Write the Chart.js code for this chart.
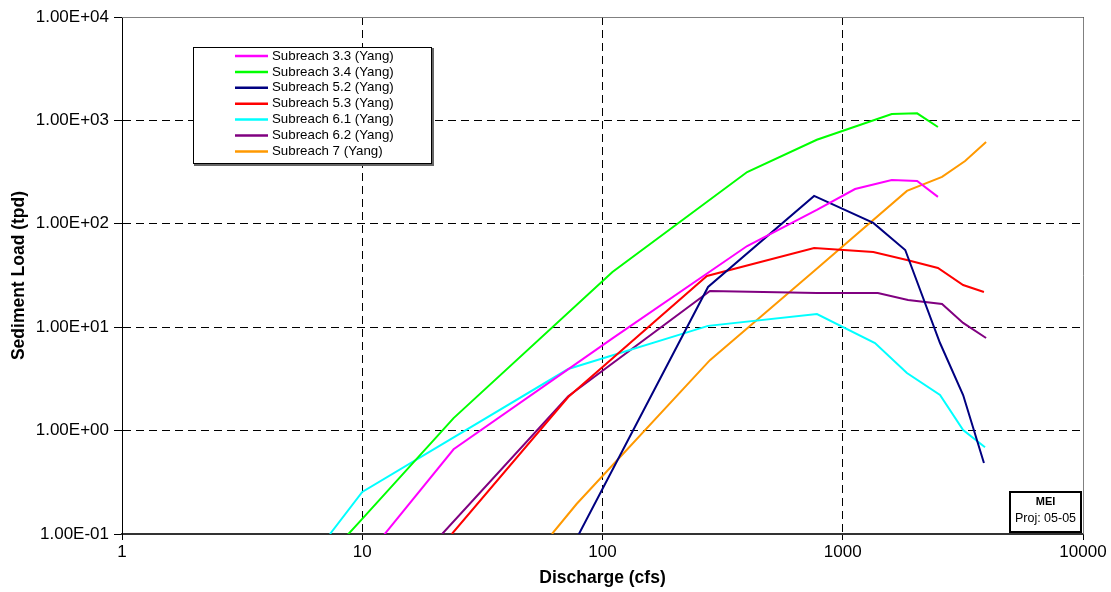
<!DOCTYPE html>
<html>
<head>
<meta charset="utf-8">
<script src="https://cdn.jsdelivr.net/npm/chart.js@4"></script>
<style>
  html, body { margin: 0; padding: 0; background: #fff; }
</style>
</head>
<body>
<canvas id="chart" width="1111" height="592"></canvas>
<script>
// series names
const seriesNames = [
  'Subreach 3.3 (Yang)',
  'Subreach 3.4 (Yang)',
  'Subreach 5.2 (Yang)',
  'Subreach 5.3 (Yang)',
  'Subreach 6.1 (Yang)',
  'Subreach 6.2 (Yang)',
  'Subreach 7 (Yang)'
];

// discharge (cfs) and sediment load (tpd)
const q33 = [10, 24, 110, 400, 780, 1125, 1600, 2040, 2490];
const s33 = [0.054, 0.66, 7.8, 61, 136, 217, 265, 260, 182];

const q34 = [7.3, 10, 24, 110, 400, 780, 1600, 2040, 2490];
const s34 = [0.063, 0.14, 1.32, 34.2, 317, 650, 1153, 1170, 863];

const q52 = [75, 275, 760, 1340, 1820, 2540, 3170, 3870];
const s52 = [0.076, 24.5, 186, 102, 55.8, 7.03, 2.21, 0.486];

const q53 = [23.6, 72, 272, 760, 1340, 1850, 2490, 3170, 3870];
const s53 = [0.1, 2.11, 31.3, 58.3, 53.4, 44.7, 37.4, 25.6, 21.9];

const q61 = [7.34, 10, 72, 275, 781, 1362, 1850, 2540, 3170, 3910];
const s61 = [0.1, 0.255, 3.94, 10.3, 13.4, 7.03, 3.6, 2.21, 1.01, 0.69];

const q62 = [21.5, 72, 280, 780, 1400, 1870, 2590, 3170, 3950];
const s62 = [0.1, 2.15, 22.4, 21.4, 21.4, 18.3, 16.8, 11, 7.86];

const q7 = [61.6, 78, 280, 760, 1850, 2590, 3230, 3950];
const s7 = [0.1, 0.195, 4.8, 35, 208, 284, 405, 618];

const discharges = [q33, q34, q52, q53, q61, q62, q7];
const loads = [s33, s34, s52, s53, s61, s62, s7];

const xTicks = [1, 10, 100, 1000, 10000];
const yTicks = [0.1, 1, 10, 100, 1000, 10000];

const colors = ['#FF00FF', '#00FF00', '#000080', '#FF0000', '#00FFFF', '#800080', '#FF9900'];

const FONT = "'Liberation Sans', Arial, sans-serif";

function sci(v) {
  const e = Math.round(Math.log10(v));
  return '1.00E' + (e < 0 ? '-' : '+') + String(Math.abs(e)).padStart(2, '0');
}

// legend box and logo box drawn inside the plot, Excel style
const overlay = {
  id: 'overlay',
  afterDraw(chart) {
    const ctx = chart.ctx;
    const a = chart.chartArea;
    ctx.save();

    // top / right plot border
    ctx.strokeStyle = '#808080';
    ctx.lineWidth = 1;
    ctx.beginPath();
    ctx.moveTo(a.left, a.top + 0.5);
    ctx.lineTo(a.right + 0.5, a.top + 0.5);
    ctx.lineTo(a.right + 0.5, a.bottom);
    ctx.stroke();

    // legend
    const lx = 193, ly = 47, lw = 239, lh = 117;
    ctx.fillStyle = '#666';
    ctx.fillRect(lx + 1, ly + 1, lw + 1, lh + 1);
    ctx.fillStyle = '#fff';
    ctx.fillRect(lx, ly, lw, lh);
    ctx.strokeStyle = '#000';
    ctx.strokeRect(lx + 0.5, ly + 0.5, lw - 1, lh - 1);
    ctx.font = '13.3px ' + FONT;
    ctx.textBaseline = 'middle';
    ctx.textAlign = 'left';
    chart.data.datasets.forEach((ds, i) => {
      const y = 56 + i * 15.9;
      ctx.strokeStyle = ds.borderColor;
      ctx.lineWidth = 2.5;
      ctx.beginPath();
      ctx.moveTo(235, y);
      ctx.lineTo(268, y);
      ctx.stroke();
      ctx.fillStyle = '#000';
      ctx.fillText(ds.label, 272, y);
    });

    // logo box
    ctx.fillStyle = '#fff';
    ctx.fillRect(1009, 491, 73, 42);
    ctx.strokeStyle = '#000';
    ctx.lineWidth = 2;
    ctx.strokeRect(1010, 492, 71, 40);
    ctx.fillStyle = '#000';
    ctx.textAlign = 'center';
    ctx.font = 'bold 11px ' + FONT;
    ctx.fillText('MEI', 1045.5, 502);
    ctx.font = '12.5px ' + FONT;
    ctx.fillText('Proj: 05-05', 1045.5, 519);
    ctx.restore();
  }
};

new Chart(document.getElementById('chart'), {
  type: 'line',
  data: {
    datasets: seriesNames.map((name, i) => ({
      label: name,
      data: discharges[i].map((q, j) => ({ x: q, y: loads[i][j] })),
      borderColor: colors[i],
      backgroundColor: colors[i],
      borderWidth: 2,
      pointRadius: 0,
      tension: 0,
      fill: false,
      clip: 0
    }))
  },
  options: {
    responsive: false,
    animation: false,
    devicePixelRatio: 1,
    layout: { padding: { left: 0, top: 17, right: 28, bottom: 0 } },
    plugins: {
      legend: { display: false },
      tooltip: { enabled: false }
    },
    scales: {
      x: {
        type: 'logarithmic',
        min: 1,
        max: 10000,
        afterBuildTicks: s => { s.ticks = xTicks.map(v => ({ value: v })); },
        afterFit: s => { s.height = 58; },
        ticks: {
          callback: v => String(v),
          font: { family: FONT, size: 17 },
          color: '#000',
          padding: 2,
          maxRotation: 0,
          autoSkip: false
        },
        grid: { color: '#000', lineWidth: 1, tickColor: '#000', tickLength: 6 },
        border: { color: '#333', width: 2, dash: [8, 5] },
        title: {
          display: true,
          text: 'Discharge (cfs)',
          font: { family: FONT, size: 17.5, weight: 'bold' },
          color: '#000',
          padding: { top: 0, bottom: 3 }
        }
      },
      y: {
        type: 'logarithmic',
        min: 0.1,
        max: 10000,
        afterBuildTicks: s => { s.ticks = yTicks.map(v => ({ value: v })); },
        afterFit: s => { s.width = 122; },
        ticks: {
          callback: v => sci(v),
          font: { family: FONT, size: 17 },
          color: '#000',
          padding: 5,
          autoSkip: false
        },
        grid: { color: '#000', lineWidth: 1, tickColor: '#000', tickLength: 8 },
        border: { color: '#000', width: 1, dash: [8, 5] },
        title: {
          display: true,
          text: 'Sediment Load (tpd)',
          font: { family: FONT, size: 17.5, weight: 'bold' },
          color: '#000',
          padding: { top: 9, bottom: 0 }
        }
      }
    }
  },
  plugins: [overlay]
});
</script>
</body>
</html>
